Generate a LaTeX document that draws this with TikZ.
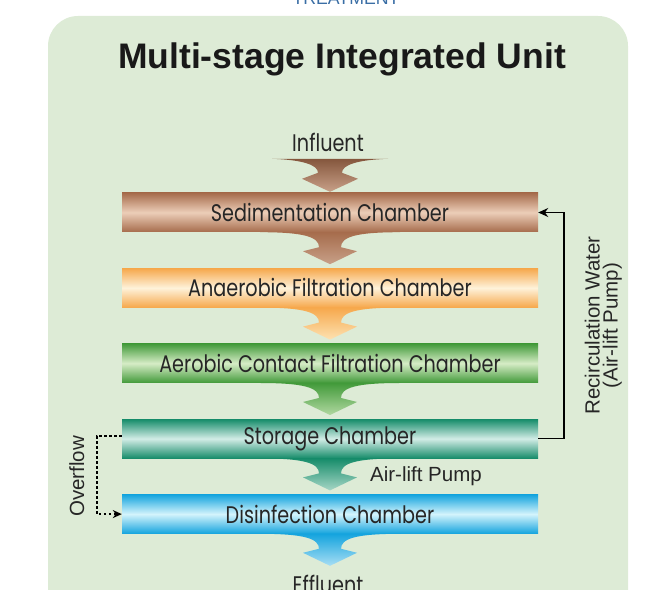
\documentclass[tikz,border=0pt]{standalone}
\usepackage{fontspec}
\setmainfont{Liberation Sans}
\newfontfamily\chamberfont[FakeStretch=0.8]{Poppins}
\usetikzlibrary{positioning,calc,arrows.meta}

\definecolor{panel}{RGB}{221,235,214}
\definecolor{headblue}{RGB}{58,110,165}
\definecolor{sedA}{RGB}{166,108,76}
\definecolor{sedB}{RGB}{236,206,184}
\definecolor{sedF}{RGB}{200,160,136}
\definecolor{anaA}{RGB}{246,168,76}
\definecolor{anaB}{RGB}{254,242,218}
\definecolor{anaF}{RGB}{253,226,178}
\definecolor{aerA}{RGB}{66,154,58}
\definecolor{aerB}{RGB}{214,236,198}
\definecolor{aerF}{RGB}{176,216,160}
\definecolor{stoA}{RGB}{22,140,106}
\definecolor{stoB}{RGB}{210,236,230}
\definecolor{stoF}{RGB}{166,214,198}
\definecolor{disA}{RGB}{20,164,222}
\definecolor{disB}{RGB}{212,244,252}
\definecolor{disF}{RGB}{168,222,244}

\begin{document}
\begin{tikzpicture}[x=1pt,y=1pt,node distance=36pt,
  chamber/.style={minimum width=416pt,minimum height=39pt,inner sep=0pt,
    font=\chamberfont\fontsize{24}{26}\selectfont,text=black!85},
  label/.style={font=\fontsize{20.5}{18}\selectfont,text=black!85,align=center}]
\useasboundingbox (0,0) rectangle (645,589);
\fill[panel,rounded corners=30pt] (48,-40) rectangle (628,573);
\node[anchor=base,text=headblue,font=\fontsize{17.7}{20}\selectfont] (head) at (346,584) {TREATMENT};
\node[anchor=base,font=\bfseries\fontsize{35.5}{40}\selectfont,text=black!90] (title) at (342,520) {Multi-stage Integrated Unit};

% chambers
\node[chamber,top color=sedA,bottom color=sedA,middle color=sedB] (sed) at (330,376.5) {Sedimentation Chamber};
\node[chamber,below=of sed,top color=anaA,bottom color=anaA,middle color=anaB] (ana) {Anaerobic Filtration Chamber};
\node[chamber,below=of ana,top color=aerA,bottom color=aerA,middle color=aerB] (aer) {Aerobic Contact Filtration Chamber};
\node[chamber,below=of aer,top color=stoA,bottom color=stoA,middle color=stoB] (sto) {Storage Chamber};
\node[chamber,below=of sto,top color=disA,bottom color=disA,middle color=disB] (dis) {Disinfection Chamber};

% influent and effluent
\node[anchor=base,font=\chamberfont\fontsize{24}{26}\selectfont,text=black!85] (influent) at (328,437) {Influent};
\node[anchor=base,font=\chamberfont\fontsize{24}{26}\selectfont,text=black!85] (effluent) at (328,-5) {Effluent};
\path[shift={(sed.north)},top color=sedA!80!black,bottom color=sedF] (-58,34) -- (58,34) .. controls (28,33) and (12,28) .. (12,20) -- (28,14) -- (0,1) -- (-28,14) -- (-12,20) .. controls (-12,28) and (-28,33) .. (-58,34) -- cycle;

% flow arrows
\foreach \c/\t/\b in {sed/sedA/sedF,ana/anaA/anaF,aer/aerA/aerF,sto/stoA/stoF,dis/disA/disF}
  \path[shift={(\c.south)},top color=\t,bottom color=\b] (-70,0) .. controls (-25,0) and (-11,-5) .. (-11,-15) -- (-27,-19) -- (0,-32) -- (27,-19) -- (11,-15) .. controls (11,-5) and (25,0) .. (70,0) -- cycle;

\node[label] (pump) at ($(sto.south)!0.5!(dis.north)+(96,0)$) {Air-lift Pump};

% recirculation and overflow
\draw[line width=1.5pt,-{Stealth[length=10pt,width=9pt]}] (sto.east) -- ++(26,0) |- (sed.east);
\node[label,rotate=90] (recirc) at ($(sed.east)!0.5!(sto.east)+(65,0)$) {Recirculation Water\\(Air-lift Pump)};
\draw[line width=1.8pt,dash pattern=on 2.5pt off 2.5pt,-{Stealth[length=9pt,width=8pt]}] ([yshift=2.5pt]sto.west) -- ++(-25,0) |- (dis.west);
\node[label,rotate=90] (overflow) at ($(sto.west)!0.5!(dis.west)+(-45,0)$) {Overflow};
\end{tikzpicture}
\end{document}
